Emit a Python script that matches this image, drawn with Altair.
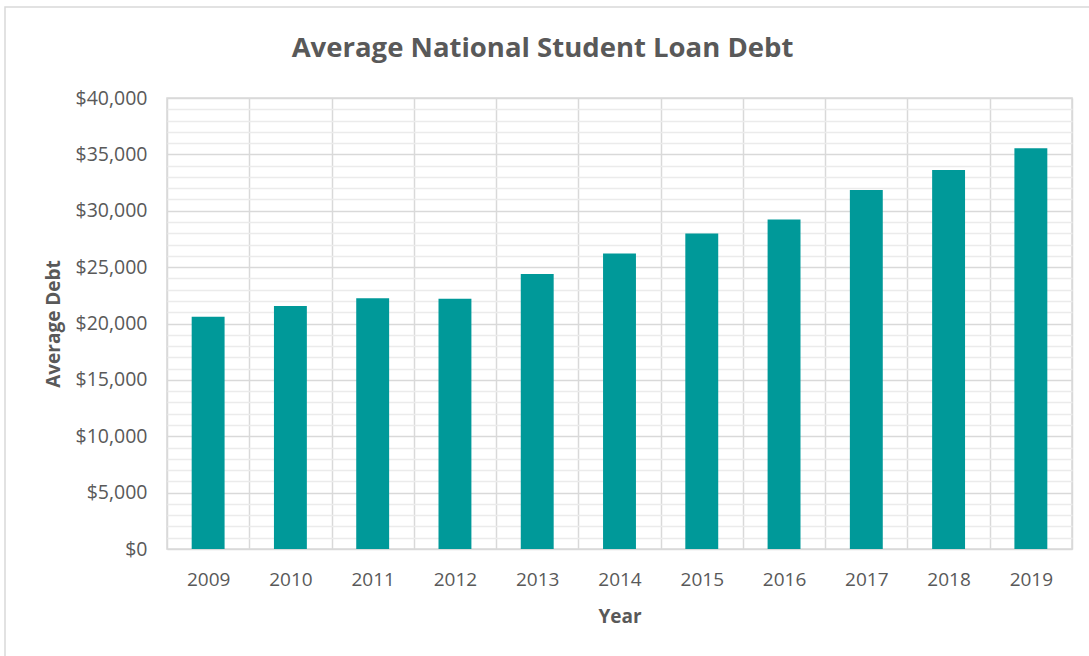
import altair as alt
import pandas as pd

years = ["2009", "2010", "2011", "2012", "2013", "2014", "2015", "2016", "2017", "2018", "2019"]
debt = [20600, 21550, 22250, 22200, 24380, 26200, 27980, 29230, 31850, 33620, 35550]

df = pd.DataFrame({"Year": years, "Debt": debt})

FONT = "Open Sans"
TXT = "#595959"

frame = alt.Chart(pd.DataFrame({"k": [0]})).mark_rect(
    fill=None, stroke="#D9D9D9", strokeWidth=1.5, clip=False
).encode(
    x=alt.value(-162), x2=alt.value(1000), y=alt.value(-91), y2=alt.value(700)
)

bars = alt.Chart(df).mark_bar(color="#009999", width=alt.RelativeBandSize(0.4)).encode(
    x=alt.X(
        "Year:N",
        sort=years,
        scale=alt.Scale(paddingInner=0, paddingOuter=0),
        axis=alt.Axis(
            title="Year",
            labelAngle=0,
            tickBand="extent",
            grid=True,
            gridColor="#D9D9D9",
            gridWidth=1.5,
            domain=False,
            ticks=False,
            tickSize=0,
            labelPadding=36,
            labelBaseline="alphabetic",
            labelFont=FONT,
            labelFontSize=19,
            labelColor=TXT,
            titleFont=FONT,
            titleFontSize=19,
            titleFontWeight="bold",
            titleColor=TXT,
            titleBaseline="alphabetic",
            titleY=73,
        ),
    ),
    y=alt.Y(
        "Debt:Q",
        scale=alt.Scale(domain=[0, 40000], nice=False),
        axis=alt.Axis(
            title="Average Debt",
            values=list(range(0, 40001, 1000)),
            format="$,d",
            labelExpr="datum.value % 5000 === 0 ? format(datum.value, '$,d') : ''",
            labelOverlap=False,
            gridColor=alt.condition("datum.value % 5000 === 0", alt.value("#D9D9D9"), alt.value("#EBEBEB")),
            gridWidth=1.5,
            domain=False,
            ticks=False,
            tickSize=0,
            labelPadding=20,
            labelBaseline="middle",
            labelFont=FONT,
            labelFontSize=19.5,
            labelColor=TXT,
            titleFont=FONT,
            titleFontSize=19,
            titleFontWeight="bold",
            titleColor=TXT,
            titlePadding=12,
        ),
    ),
)

chart = alt.layer(frame, bars).properties(
    width=905,
    height=451,
    title=alt.TitleParams(
        "Average National Student Loan Debt",
        font=FONT,
        fontSize=27.5,
        fontWeight="bold",
        color=TXT,
        anchor="middle",
        dx=-77,
        dy=60,
    ),
    padding={"left": 167, "top": 98, "right": 17, "bottom": 107},
    autosize=alt.AutoSizeParams(type="none"),
    background="white",
).configure_view(stroke="#D9D9D9", strokeWidth=1.5)

chart.save("out.html", embed_options={"renderer": "svg", "actions": False})
